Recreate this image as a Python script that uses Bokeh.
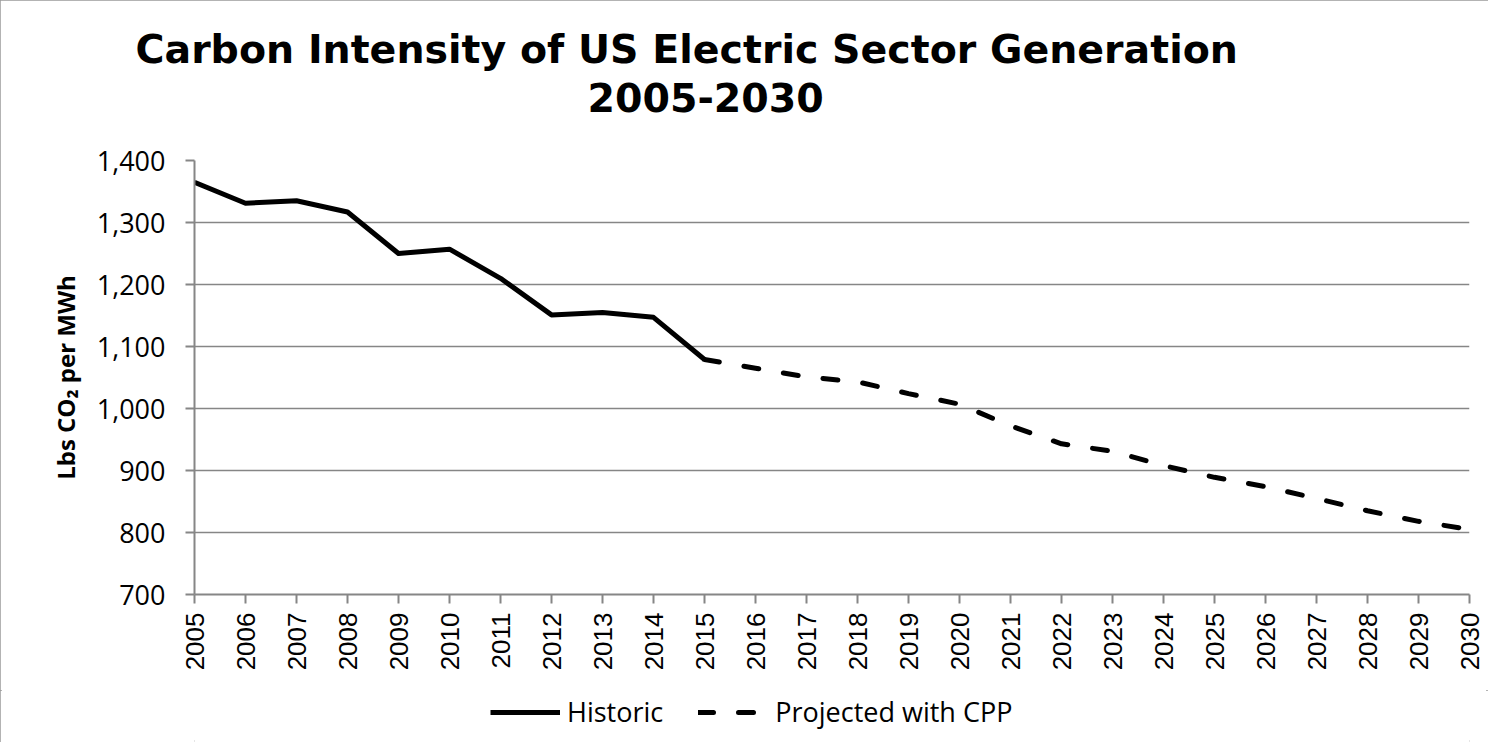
from bokeh.plotting import figure
from bokeh.models import (Range1d, FixedTicker, NumeralTickFormatter, Legend, LegendItem, Title)
from bokeh.layouts import column
from bokeh.embed import file_html
from bokeh.resources import INLINE
import math

# ---- data ----
hist_years = [2005, 2006, 2007, 2008, 2009, 2010, 2011, 2012, 2013, 2014, 2015]
hist_values = [1365, 1331, 1335, 1317, 1250, 1257, 1210, 1151, 1155, 1147, 1079]
proj_years = [2015, 2016, 2017, 2018, 2019, 2020, 2021, 2022, 2023, 2024, 2025, 2026, 2027, 2028, 2029, 2030]
proj_values = [1079, 1065, 1051, 1043, 1024, 1007, 972, 943, 931, 908, 889, 874, 855, 835, 818, 805]
x_ticks = list(range(2005, 2031))
y_ticks = [700, 800, 900, 1000, 1100, 1200, 1300, 1400]
title_line1 = "Carbon Intensity of US Electric Sector Generation"
title_line2 = "2005-2030"
y_label = "Lbs CO\u2082 per MWh"
series_names = ["Historic", "Projected with CPP"]

GRAY = "#868686"

p = figure(width=1488, height=690, output_backend="svg", toolbar_location=None,
           x_range=Range1d(2005, 2030), y_range=Range1d(700, 1400),
           min_border_left=194, min_border_right=19, min_border_top=160, min_border_bottom=96)
p.title = None
p.outline_line_color = None
p.background_fill_color = "white"
p.border_fill_color = "white"

# title: spacer (closest to frame), then line 2, then line 1
spacer = Title(text=" ", text_font_size="1px", standoff=37, align="left")
t2 = Title(text=title_line2, align="left", offset=393, vertical_align="bottom", standoff=18,
           text_font="DejaVu Sans", text_font_size="39.5px", text_font_style="bold", text_color="black")
t1 = Title(text=title_line1, align="left", offset=-59, vertical_align="bottom", standoff=0,
           text_font="DejaVu Sans", text_font_size="39.5px", text_font_style="bold", text_color="black")
p.add_layout(spacer, "above")
p.add_layout(t2, "above")
p.add_layout(t1, "above")

line_hist = dict(line_color="black", line_width=5, line_join="round")
line_proj = dict(line_color="black", line_width=5, line_dash="15 25", line_cap="round", line_join="round")

p.line(hist_years, hist_values, **line_hist)
p.line(proj_years, proj_values, **line_proj)

# axes
p.xaxis.ticker = FixedTicker(ticks=x_ticks)
p.xaxis.major_label_overrides = {y: str(y) for y in x_ticks}
p.xaxis.major_label_orientation = math.pi / 2
p.xaxis.major_label_text_font = "Liberation Sans"
p.xaxis.major_label_text_font_size = "26px"
p.xaxis.major_label_text_color = "black"
p.xaxis.major_label_standoff = 9

p.yaxis.ticker = FixedTicker(ticks=y_ticks)
p.yaxis.formatter = NumeralTickFormatter(format="0,0")
p.yaxis.major_label_text_font = "Open Sans"
p.yaxis.major_label_text_font_size = "27px"
p.yaxis.major_label_text_color = "black"
p.yaxis.major_label_standoff = 20
p.yaxis.axis_label = y_label
p.yaxis.axis_label_text_font = "Open Sans"
p.yaxis.axis_label_text_font_size = "24px"
p.yaxis.axis_label_text_font_style = "bold"
p.yaxis.axis_label_text_color = "black"
p.yaxis.axis_label_standoff = 12

for ax in (p.xaxis, p.yaxis):
    ax.axis_line_color = GRAY
    ax.axis_line_width = 2
    ax.major_tick_line_color = GRAY
    ax.major_tick_line_width = 2
    ax.major_tick_out = 9
    ax.major_tick_in = 0
    ax.minor_tick_line_color = None

p.xgrid.grid_line_color = None
p.ygrid.grid_line_color = GRAY
p.ygrid.grid_line_width = 1.5

# legend strip below the chart: same series drawn outside its visible range,
# so only the legend swatches and labels show
q = figure(width=1488, height=52, output_backend="svg", toolbar_location=None,
           x_axis_type=None, y_axis_type=None, min_border=0,
           x_range=Range1d(0, 1), y_range=Range1d(0, 1))
q.title = None
q.outline_line_color = None
q.background_fill_color = "white"
q.border_fill_color = "white"
q.xgrid.grid_line_color = None
q.ygrid.grid_line_color = None
k_hist = q.line(hist_years, hist_values, **line_hist)
k_proj = q.line(proj_years, proj_values, **line_proj)

legend = Legend(items=[LegendItem(label=series_names[0], renderers=[k_hist]),
                       LegendItem(label=series_names[1], renderers=[k_proj])],
                orientation="horizontal", location=(296, 12),
                label_text_font="Open Sans", label_text_font_size="27px", label_text_color="black",
                glyph_width=70, glyph_height=20, label_standoff=7, spacing=35,
                border_line_color=None, background_fill_alpha=0, padding=0, margin=0)
q.add_layout(legend, "center")

layout = column(p, q, spacing=0,
                styles={"outline": "2px solid #9a9a9a", "outline-offset": "-2px"})
open("out.html", "w").write(file_html(layout, INLINE))
